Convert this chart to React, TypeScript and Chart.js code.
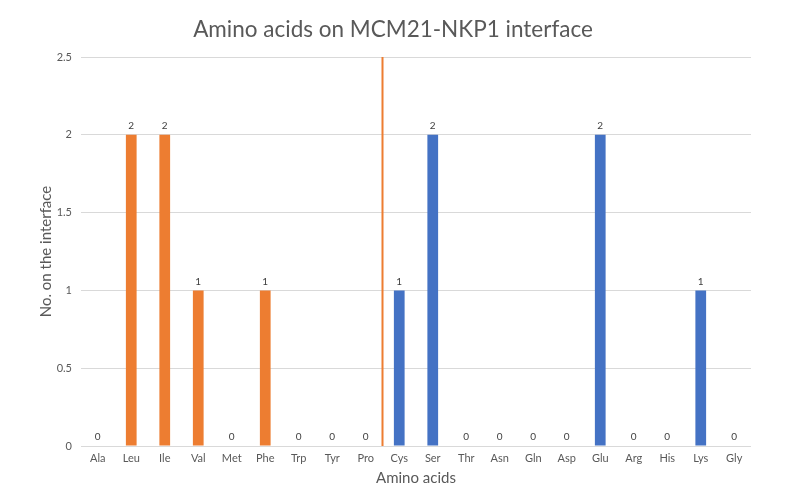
import React, { useEffect, useRef } from "react";
import { Chart, registerables } from "chart.js";

Chart.register(...registerables);

const categories = [
  "Ala", "Leu", "Ile", "Val", "Met", "Phe", "Trp", "Tyr", "Pro",
  "Cys", "Ser", "Thr", "Asn", "Gln", "Asp", "Glu", "Arg", "His", "Lys", "Gly",
];
const hydrophobicValues = [0, 2, 2, 1, 0, 1, 0, 0, 0, null, null, null, null, null, null, null, null, null, null, null];
const polarValues = [null, null, null, null, null, null, null, null, null, 1, 2, 0, 0, 0, 0, 2, 0, 0, 1, 0];
const dividerAfterIndex = 8;
const yTicks = [0, 0.5, 1, 1.5, 2, 2.5];
const chartTitle = "Amino acids on MCM21-NKP1 interface";

const FONT = "Lato, 'Open Sans', sans-serif";

const labelPlugin = {
  id: "valueLabels",
  afterDatasetsDraw(chart: any) {
    const ctx = chart.ctx;
    ctx.save();
    ctx.font = `10px ${FONT}`;
    ctx.fillStyle = "#404040";
    ctx.textAlign = "center";
    ctx.textBaseline = "bottom";
    chart.data.datasets.forEach((ds: any, di: number) => {
      const meta = chart.getDatasetMeta(di);
      ds.data.forEach((v: any, i: number) => {
        if (v === null || v === undefined) return;
        const el = meta.data[i];
        ctx.fillText(String(v), el.x, el.y - 4);
      });
    });
    ctx.restore();
  },
};

const dividerPlugin = {
  id: "divider",
  afterDatasetsDraw(chart: any) {
    const x = chart.scales.x;
    const area = chart.chartArea;
    const px = (x.getPixelForValue(dividerAfterIndex) + x.getPixelForValue(dividerAfterIndex + 1)) / 2;
    const ctx = chart.ctx;
    ctx.save();
    ctx.strokeStyle = "#ED7D31";
    ctx.lineWidth = 2;
    ctx.beginPath();
    ctx.moveTo(px, area.top);
    ctx.lineTo(px, area.bottom);
    ctx.stroke();
    ctx.restore();
  },
};

const titlePlugin = {
  id: "centerTitle",
  afterDraw(chart: any) {
    const ctx = chart.ctx;
    ctx.save();
    ctx.font = `22.5px ${FONT}`;
    ctx.fillStyle = "#595959";
    ctx.textAlign = "center";
    ctx.textBaseline = "middle";
    ctx.fillText(chartTitle, chart.width / 2 - 7, 30);
    ctx.restore();
  },
};

export default function App() {
  const ref = useRef<HTMLCanvasElement>(null);
  useEffect(() => {
    if (!ref.current) return;
    const chart = new Chart(ref.current, {
      type: "bar",
      data: {
        labels: categories,
        datasets: [
          {
            data: hydrophobicValues as any,
            backgroundColor: "#ED7D31",
            grouped: false,
            barPercentage: 1,
            categoryPercentage: 0.32,
          } as any,
          {
            data: polarValues as any,
            backgroundColor: "#4472C4",
            grouped: false,
            barPercentage: 1,
            categoryPercentage: 0.32,
          } as any,
        ],
      },
      options: {
        responsive: false,
        animation: false,
        layout: { padding: { left: 0, right: 49, top: 57, bottom: 0 } },
        plugins: {
          legend: { display: false },
          tooltip: { enabled: false },
          title: { display: false },
        },
        scales: {
          x: {
            grid: { display: false, drawTicks: false },
            border: { display: false },
            ticks: { color: "#595959", font: { family: FONT, size: 11 }, padding: 6, maxRotation: 0, autoSkip: false },
            title: {
              display: true,
              text: "Amino acids",
              color: "#595959",
              font: { family: FONT, size: 15 },
              padding: { top: 0, bottom: 17 },
            },
            afterFit: (s: any) => { s.height = 58; },
          },
          y: {
            min: 0,
            max: 2.5,
            afterBuildTicks: (s: any) => { s.ticks = yTicks.map((v) => ({ value: v })); },
            grid: { color: "#d9d9d9", drawTicks: false },
            border: { display: false },
            ticks: {
              color: "#595959",
              font: { family: FONT, size: 11 },
              padding: 9,
              callback: (v: any) => String(v),
            },
            title: {
              display: true,
              text: "No. on the interface",
              color: "#595959",
              font: { family: FONT, size: 15 },
              padding: { top: 37, bottom: 0 },
            },
            afterFit: (s: any) => { s.width = 81; },
          },
        },
      },
      plugins: [labelPlugin, dividerPlugin, titlePlugin],
    });
    return () => chart.destroy();
  }, []);
  return (
    <div style={{ position: "fixed", left: 0, top: 0, width: 800, height: 504, background: "#fff" }}>
      <canvas ref={ref} width={800} height={504} style={{ display: "block" }} />
    </div>
  );
}
